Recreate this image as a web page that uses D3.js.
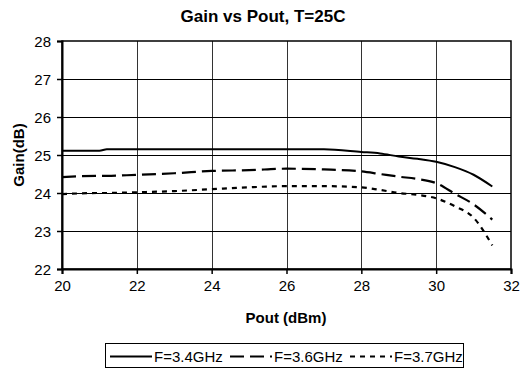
<!DOCTYPE html>
<html>
<head>
<meta charset="utf-8">
<script src="https://cdn.jsdelivr.net/npm/d3@7"></script>
<style>
  body { margin: 0; background: #fff; }
  text { font-family: "Liberation Sans", Arial, sans-serif; fill: #000; }
</style>
</head>
<body>
<div class="canvas"></div>
<script>
// data
const pout = [20, 21, 21.2, 22, 23, 24, 25, 26, 27, 28, 28.5, 29, 29.5, 30, 30.5, 31, 31.5];
const gain34 = [25.11, 25.11, 25.15, 25.15, 25.15, 25.15, 25.15, 25.15, 25.15, 25.08, 25.04, 24.96, 24.9, 24.82, 24.68, 24.48, 24.17];
const gain36 = [24.42, 24.45, 24.45, 24.48, 24.52, 24.58, 24.6, 24.64, 24.62, 24.57, 24.5, 24.43, 24.37, 24.26, 23.98, 23.7, 23.3];
const gain37 = [23.97, 24.0, 24.0, 24.02, 24.05, 24.1, 24.15, 24.18, 24.18, 24.15, 24.08, 24.0, 23.95, 23.86, 23.65, 23.35, 22.62];
const seriesNames = ['F=3.4GHz', 'F=3.6GHz', 'F=3.7GHz'];
const xTicks = [20, 22, 24, 26, 28, 30, 32];
const yTicks = [22, 23, 24, 25, 26, 27, 28];

const dims = { width: 530, height: 369 };
const plot = { left: 62, right: 511, top: 41, bottom: 269 };

const svg = d3.select('.canvas')
    .append('svg')
    .attr('width', dims.width)
    .attr('height', dims.height);

const x = d3.scaleLinear().domain([20, 32]).range([plot.left, plot.right]);
const y = d3.scaleLinear().domain([22, 28]).range([plot.bottom, plot.top]);

// grid
const grid = svg.append('g').attr('shape-rendering', 'crispEdges');
grid.selectAll('line.v')
    .data(xTicks.slice(1, -1))
    .enter().append('line')
    .attr('x1', d => Math.round(x(d)) + 0.5).attr('x2', d => Math.round(x(d)) + 0.5)
    .attr('y1', plot.top).attr('y2', plot.bottom)
    .attr('stroke', '#333').attr('stroke-width', 1);
grid.selectAll('line.h')
    .data(yTicks.slice(1, -1))
    .enter().append('line')
    .attr('y1', d => Math.round(y(d)) + 0.5).attr('y2', d => Math.round(y(d)) + 0.5)
    .attr('x1', plot.left).attr('x2', plot.right)
    .attr('stroke', '#000').attr('stroke-width', 1);

// frame
svg.append('rect')
    .attr('x', plot.left).attr('y', plot.top)
    .attr('width', plot.right - plot.left).attr('height', plot.bottom - plot.top)
    .attr('fill', 'none').attr('stroke', '#000').attr('stroke-width', 1.5);

// axes
const xAxis = d3.axisBottom(x).tickValues(xTicks).tickFormat(d3.format('d')).tickSize(5).tickPadding(6);
const yAxis = d3.axisLeft(y).tickValues(yTicks).tickFormat(d3.format('d')).tickSize(5).tickPadding(6);

const xg = svg.append('g')
    .attr('transform', `translate(0, ${plot.bottom})`)
    .call(xAxis);
const yg = svg.append('g')
    .attr('transform', `translate(${plot.left}, 0)`)
    .call(yAxis);

[xg, yg].forEach(g => {
    g.select('.domain').attr('stroke', '#000').attr('stroke-width', 2);
    g.selectAll('.tick line').attr('stroke', '#000').attr('stroke-width', 1.5);
    g.selectAll('text').attr('font-size', 15).attr('font-family', '"Liberation Sans", Arial, sans-serif');
});
yg.selectAll('text').attr('dy', '0.36em');

// lines
const line = d3.line()
    .x(d => x(d[0]))
    .y(d => y(d[1]))
    .curve(d3.curveMonotoneX);

const styles = [
    { dash: null, width: 2 },
    { dash: '14,6', width: 2.2 },
    { dash: '5,5', width: 2.2 }
];
const allGains = [gain34, gain36, gain37];

svg.selectAll('path.series')
    .data(allGains)
    .enter().append('path')
    .attr('class', 'series')
    .attr('d', g => line(pout.map((p, i) => [p, g[i]])))
    .attr('fill', 'none')
    .attr('stroke', '#000')
    .attr('stroke-width', (d, i) => styles[i].width)
    .attr('stroke-dasharray', (d, i) => styles[i].dash);

// titles
svg.append('text')
    .attr('x', 263).attr('y', 22)
    .attr('text-anchor', 'middle')
    .attr('font-size', 17).attr('font-weight', 'bold')
    .text('Gain vs Pout, T=25C');

svg.append('text')
    .attr('x', 286).attr('y', 323)
    .attr('text-anchor', 'middle')
    .attr('font-size', 15).attr('font-weight', 'bold')
    .text('Pout (dBm)');

svg.append('text')
    .attr('transform', `translate(24, ${(plot.top + plot.bottom) / 2}) rotate(-90)`)
    .attr('text-anchor', 'middle')
    .attr('font-size', 15).attr('font-weight', 'bold')
    .text('Gain(dB)');

// legend
const legendGroup = svg.append('g');
legendGroup.append('rect')
    .attr('x', 105.5).attr('y', 343.5)
    .attr('width', 358).attr('height', 24)
    .attr('fill', '#fff').attr('stroke', '#000').attr('stroke-width', 1);

const legendX = [110, 230, 350];
seriesNames.forEach((name, i) => {
    legendGroup.append('line')
        .attr('x1', legendX[i]).attr('x2', legendX[i] + 42)
        .attr('y1', 356.5).attr('y2', 356.5)
        .attr('stroke', '#000')
        .attr('stroke-width', styles[i].width)
        .attr('stroke-dasharray', styles[i].dash);
    legendGroup.append('text')
        .attr('x', legendX[i] + 44).attr('y', 362)
        .attr('font-size', 15)
        .text(name);
});
</script>
</body>
</html>
